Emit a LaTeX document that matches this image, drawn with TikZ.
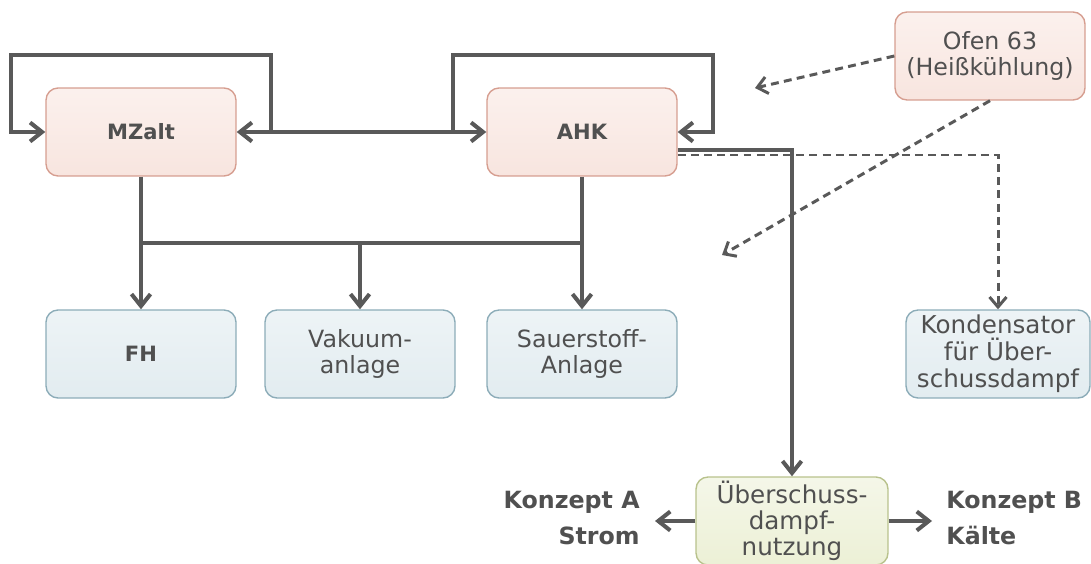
\documentclass[tikz,border=0pt]{standalone}
\usepackage{fontspec}
\setmainfont{DejaVu Sans}
\definecolor{ink}{RGB}{80,80,80}
\definecolor{wire}{RGB}{89,89,89}
\definecolor{rosefill}{RGB}{248,229,223}
\definecolor{roseline}{RGB}{214,158,144}
\definecolor{icefill}{RGB}{226,236,240}
\definecolor{iceline}{RGB}{140,172,184}
\definecolor{limefill}{RGB}{236,240,214}
\definecolor{limeline}{RGB}{184,194,140}
\usetikzlibrary{arrows.meta,calc}

\begin{document}
\begin{tikzpicture}[x=0.02cm,y=-0.02cm,
    >={Straight Barb[length=2.4mm,width=3.8mm]},
    box/.style={rounded corners=0.24cm,line width=0.8pt,minimum width=3.8cm,
      minimum height=1.76cm,align=center,text=ink,inner sep=1pt,
      font=\fontsize{13.5}{14.5}\selectfont},
    rosebox/.style={box,draw=roseline,top color=rosefill!55!white,bottom color=rosefill},
    icebox/.style={box,draw=iceline,top color=icefill!60!white,bottom color=icefill},
    limebox/.style={box,draw=limeline,top color=limefill!55!white,bottom color=limefill},
    heavy/.style={font=\bfseries\fontsize{12}{13}\selectfont},
    konz/.style={text=ink,inner sep=0pt,font=\bfseries\fontsize{13.5}{21}\selectfont},
    flow/.style={wire,line width=2.3pt},
    dflow/.style={wire,line width=1.7pt,dash pattern=on 4.5pt off 3pt,
      -{Straight Barb[length=2mm,width=3.4mm]}}]
  \useasboundingbox (0,0) rectangle (1091,564);

  \node[rosebox,heavy] (mz) at (141,132) {MZalt};
  \node[rosebox,heavy] (ahk) at (582,132) {AHK};
  \node[rosebox] (ofen) at (990,56) {Ofen 63\\(Heißkühlung)};
  \node[icebox,heavy] (fh) at (141,354) {FH};
  \node[icebox] (vak) at (360,354) {Vakuum-\\anlage};
  \node[icebox] (o2) at (582,354) {Sauerstoff-\\Anlage};
  \node[icebox,minimum width=3.68cm,font=\fontsize{14}{15.3}\selectfont] (kond) at (998,354)
    {Kondensator\\für Über-\\schussdampf};
  \node[limebox,minimum width=3.84cm,font=\fontsize{14}{14.8}\selectfont] (ues) at (792,521)
    {Überschuss-\\dampf-\\nutzung};
  \node[konz,anchor=east,align=right] (ka) at (640,518) {Konzept A\\Strom};
  \node[konz,anchor=west,align=left] (kb) at (946,518) {Konzept B\\Kälte};

  \draw[flow,<->] (mz.east) -- (ahk.west);
  \draw[flow,->] ([xshift=.68cm]mz.east) -- ++(0,1.54cm) -| ([xshift=-.68cm]mz.west) -- (mz.west);
  \draw[flow,->] ([xshift=-.66cm]ahk.west) -- ++(0,1.54cm) -| ([xshift=.7cm]ahk.east) -- (ahk.east);

  \coordinate (bus) at (0,243);
  \draw[flow,->] (mz.south) -- (fh.north);
  \draw[flow,->] (ahk.south) -- (o2.north);
  \draw[flow] (mz.south |- bus) -- (ahk.south |- bus);
  \draw[flow,->] (vak.north |- bus) -- (vak.north);

  \draw[flow,->] ([yshift=-.36cm]ahk.east) -| (ues.north);
  \draw[flow,->] (ues.west) -- ([xshift=.3cm]ka.east |- ues.west);
  \draw[flow,->] (ues.east) -- ([xshift=-.28cm]kb.west |- ues.east);

  \coordinate (hint1) at (755,88);
  \coordinate (hint2) at (722,255);
  \draw[dflow] ([yshift=-.46cm]ahk.east) -| (kond.north);
  \draw[dflow] (ofen.west) -- (hint1);
  \draw[dflow] (ofen.south) -- (hint2);
\end{tikzpicture}
\end{document}
